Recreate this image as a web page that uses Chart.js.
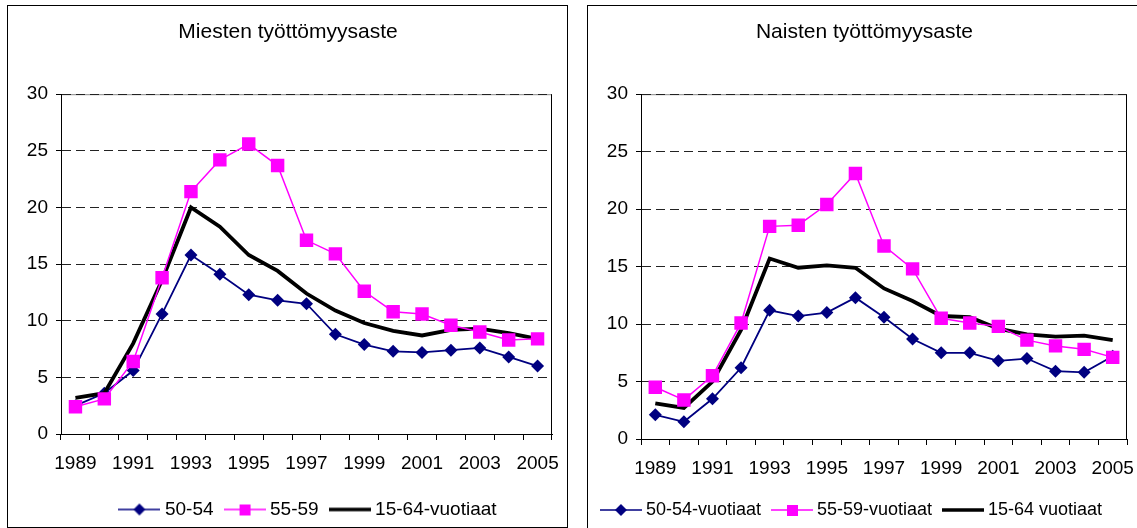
<!DOCTYPE html>
<html>
<head>
<meta charset="utf-8">
<script src="https://cdn.jsdelivr.net/npm/chart.js@4.4.1/dist/chart.umd.min.js"></script>
<style>
    body { margin: 0; background: #fff; width: 1137px; height: 528px; overflow: hidden; position: relative; }
    .box { position: absolute; border: 1px solid #000; background: #fff; }
    #box-miehet { left: 7px; top: 5px; width: 559px; height: 521px; }
    #box-naiset { left: 587px; top: 5px; width: 600px; height: 600px; }
    canvas { position: absolute; left: 0; top: 0; }
</style>
</head>
<body>
<div class="box" id="box-miehet"><canvas id="chart-miehet" width="559" height="521"></canvas></div>
<div class="box" id="box-naiset"><canvas id="chart-naiset" width="549" height="521"></canvas></div>
<script>
// Työttömyysasteet (%) vuosittain, luettu kuvasta
const years = ['1989', '1990', '1991', '1992', '1993', '1994', '1995', '1996', '1997',
               '1998', '1999', '2000', '2001', '2002', '2003', '2004', '2005'];
const yTickValues = [0, 5, 10, 15, 20, 25, 30];

const miehet5054 = [2.5, 3.6, 5.6, 10.6, 15.8, 14.1, 12.3, 11.8, 11.5, 8.8, 7.9, 7.3, 7.2, 7.4, 7.6, 6.8, 6.0];
const miehet5559 = [2.4, 3.1, 6.4, 13.8, 21.4, 24.2, 25.6, 23.7, 17.1, 15.9, 12.6, 10.8, 10.6, 9.6, 9.0, 8.3, 8.4];
const miehet1564 = [3.2, 3.6, 8.0, 13.6, 20.0, 18.3, 15.8, 14.4, 12.4, 10.9, 9.8, 9.1, 8.7, 9.2, 9.3, 8.9, 8.4];

const naiset5054 = [2.1, 1.5, 3.5, 6.2, 11.2, 10.7, 11.0, 12.3, 10.6, 8.7, 7.5, 7.5, 6.8, 7.0, 5.9, 5.8, 7.2];
const naiset5559 = [4.5, 3.4, 5.5, 10.1, 18.5, 18.6, 20.4, 23.1, 16.8, 14.8, 10.5, 10.1, 9.8, 8.6, 8.1, 7.8, 7.1];
const naiset1564 = [3.1, 2.7, 5.0, 9.5, 15.7, 14.9, 15.1, 14.9, 13.1, 12.0, 10.7, 10.6, 9.6, 9.1, 8.9, 9.0, 8.6];

const legendMiehet = ['50-54', '55-59', '15-64-vuotiaat'];
const legendNaiset = ['50-54-vuotiaat', '55-59-vuotiaat', '15-64 vuotiaat'];

const FONT = '"Liberation Sans", Arial, sans-serif';
const NAVY = '#000080';
const MAGENTA = '#FF00FF';

// legendan pieni näyte: viiva + merkki
function swatch(color, lineWidth, marker) {
    const c = document.createElement('canvas');
    c.width = 42; c.height = 14;
    const g = c.getContext('2d');
    g.strokeStyle = color;
    g.lineWidth = lineWidth;
    g.beginPath(); g.moveTo(0, 7); g.lineTo(42, 7); g.stroke();
    g.fillStyle = color;
    if (marker === 'diamond') {
        g.beginPath(); g.moveTo(21, 1); g.lineTo(27, 7); g.lineTo(21, 13); g.lineTo(15, 7); g.closePath(); g.fill();
    } else if (marker === 'square') {
        g.fillRect(16, 2, 11, 11);
    }
    return c;
}

// kuvaajan kehys: harmaa yläreuna, musta oikea reuna
const frame = {
    id: 'frame',
    beforeDraw(chart) {
        const { ctx, chartArea: a } = chart;
        ctx.save();
        ctx.lineWidth = 1;
        ctx.strokeStyle = '#888';
        ctx.beginPath(); ctx.moveTo(a.left, a.top + 0.5); ctx.lineTo(a.right, a.top + 0.5); ctx.stroke();
        ctx.strokeStyle = '#000';
        ctx.beginPath(); ctx.moveTo(a.right - 0.5, a.top); ctx.lineTo(a.right - 0.5, a.bottom); ctx.stroke();
        ctx.restore();
    }
};

// otsikon ja selitteen siirto
const shiftBlocks = {
    id: 'shiftBlocks',
    afterLayout(chart, args, opts) {
        if (chart.titleBlock) { chart.titleBlock.left += opts.title; chart.titleBlock.right += opts.title; }
        if (chart.legend) {
            chart.legend.left += opts.legend; chart.legend.right += opts.legend;
            chart.legend.top += opts.legendY; chart.legend.bottom += opts.legendY;
        }
    }
};

function makeChart(canvasId, title, names, s5054, s5559, s1564, cfg) {
    const swatches = [swatch(NAVY, 1.5, 'diamond'), swatch(MAGENTA, 1.5, 'square'), swatch('#000', 3.5, null)];
    return new Chart(document.getElementById(canvasId), {
        type: 'line',
        data: {
            labels: years,
            datasets: [
                { label: names[0], data: s5054, order: 2, borderColor: NAVY, backgroundColor: NAVY, borderWidth: 1.8,
                  pointStyle: 'rectRot', pointRadius: 6.5, pointBorderWidth: 0, pointBackgroundColor: NAVY },
                { label: names[1], data: s5559, order: 0, borderColor: MAGENTA, backgroundColor: MAGENTA, borderWidth: 1.5,
                  pointStyle: 'rect', pointRadius: 9.5, pointBorderWidth: 0, pointBackgroundColor: MAGENTA },
                { label: names[2], data: s1564, order: 1, borderColor: '#000', backgroundColor: '#000', borderWidth: 3.8,
                  pointRadius: 0 }
            ]
        },
        options: {
            responsive: false,
            devicePixelRatio: 1,
            animation: false,
            layout: { padding: { left: 0, right: cfg.padRight, top: 0, bottom: 0 } },
            elements: { line: { tension: 0 } },
            plugins: {
                tooltip: { enabled: false },
                shiftBlocks: { title: cfg.titleShift, legend: cfg.legendShift, legendY: 2 },
                title: {
                    display: true, text: title, color: '#000',
                    font: { family: FONT, size: 21, weight: 'normal' },
                    padding: { top: 14, bottom: 49 }
                },
                legend: {
                    position: 'bottom',
                    labels: {
                        usePointStyle: true,
                        pointStyleWidth: 32,
                        padding: 15,
                        color: '#000',
                        font: { family: FONT, size: cfg.legendSize },
                        generateLabels: () => names.map((n, i) => ({
                            text: n, datasetIndex: i, pointStyle: swatches[i],
                            fillStyle: '#000', strokeStyle: '#000', lineWidth: 0, hidden: false
                        }))
                    }
                }
            },
            scales: {
                x: {
                    offset: true,
                    afterFit: s => { s.height = cfg.xHeight; s.paddingLeft = 0; s.paddingRight = 0; },
                    border: { color: '#000', width: 1 },
                    grid: { offset: true, drawOnChartArea: false, drawTicks: true, tickLength: 6, tickColor: '#000' },
                    ticks: {
                        autoSkip: false, maxRotation: 0, minRotation: 0, padding: 12, color: '#000',
                        font: { family: FONT, size: 19 },
                        callback: (v, i) => i % 2 === 0 ? years[i] : ''
                    }
                },
                y: {
                    min: 0, max: 30,
                    afterBuildTicks: s => { s.ticks = yTickValues.map(v => ({ value: v })); },
                    afterFit: s => { s.width = 53; },
                    border: { color: '#000', width: 1, dash: [9, 5] },
                    grid: { color: '#222', lineWidth: 1, tickLength: 5, tickColor: '#000', tickBorderDash: [] },
                    ticks: { padding: 8, color: '#000', font: { family: FONT, size: 19 } }
                }
            }
        },
        plugins: [frame, shiftBlocks]
    });
}

makeChart('chart-miehet', 'Miesten työttömyysaste', legendMiehet, miehet5054, miehet5559, miehet1564,
    { padRight: 15, xHeight: 49, legendSize: 19, titleShift: 8, legendShift: 30 });
makeChart('chart-naiset', 'Naisten työttömyysaste', legendNaiset, naiset5054, naiset5559, naiset1564,
    { padRight: 10, xHeight: 45, legendSize: 18, titleShift: 7, legendShift: -4 });
</script>
</body>
</html>
